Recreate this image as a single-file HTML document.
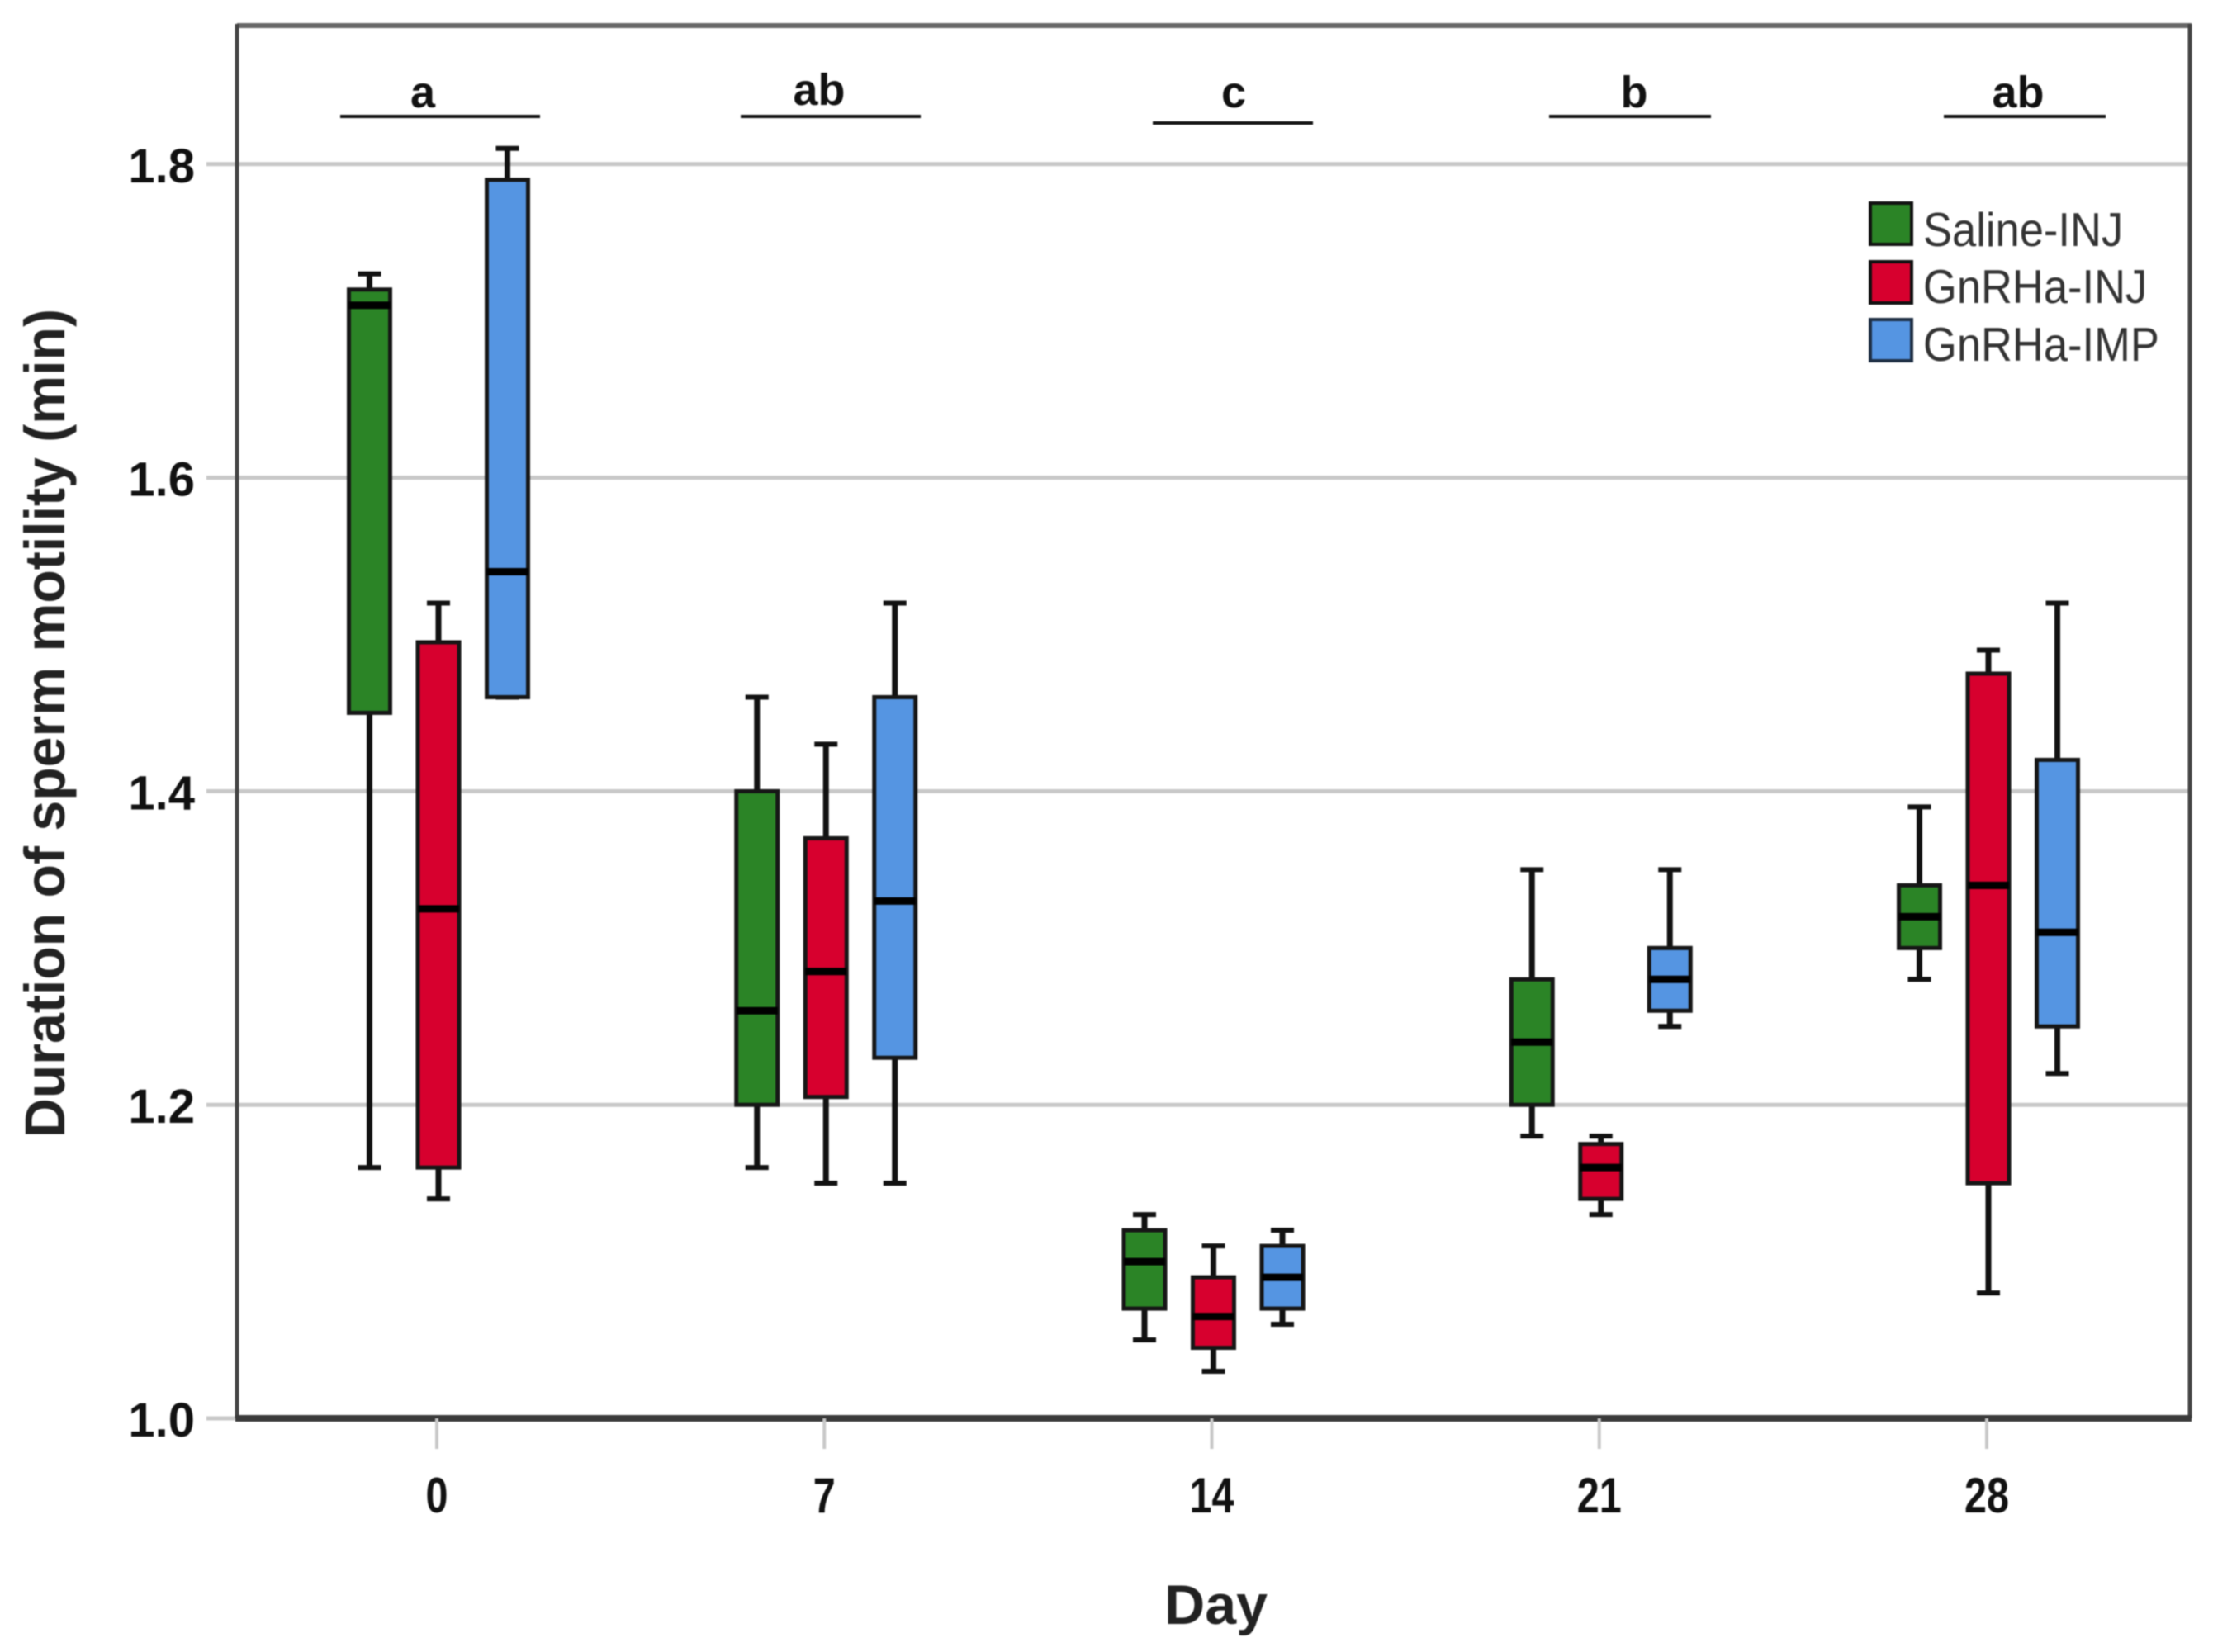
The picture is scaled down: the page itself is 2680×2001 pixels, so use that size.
<!DOCTYPE html>
<html>
<head>
<meta charset="utf-8">
<title>Duration of sperm motility by day</title>
<style>
  html, body { margin: 0; padding: 0; background: #ffffff; }
  svg { display: block; font-family: "Liberation Sans", sans-serif; filter: blur(0.7px); }
</style>
</head>
<body>
<svg id="chart" xmlns="http://www.w3.org/2000/svg" width="2680" height="2001" viewBox="0 0 2680 2001">
  <rect x="0" y="0" width="2680" height="2001" fill="#ffffff"/>
  <g id="grid"></g>
  <g id="frame">
    <line x1="287" y1="31" x2="2654" y2="31" stroke="#666666" stroke-width="6"/>
    <line x1="2652" y1="29" x2="2652" y2="1718" stroke="#444444" stroke-width="5"/>
    <line x1="287" y1="29" x2="287" y2="1718" stroke="#444444" stroke-width="5"/>
    <line x1="285" y1="1718" x2="2654" y2="1718" stroke="#3a3a3a" stroke-width="8"/>
  </g>
  <g id="xaxis"></g>
  <g id="yaxis"></g>
  <g id="boxes"></g>

  <text transform="translate(78,1378) rotate(-90)" font-size="69" font-weight="bold" fill="#222222" textLength="1004" lengthAdjust="spacingAndGlyphs">Duration of sperm motility (min)</text>
  <text x="1410" y="1967" font-size="68" font-weight="bold" fill="#222222" textLength="125" lengthAdjust="spacingAndGlyphs">Day</text>

  <g font-size="54" font-weight="bold" fill="#111111" text-anchor="middle">
    <text x="512" y="130">a</text>
    <line x1="412" y1="141" x2="654" y2="141" stroke="#111111" stroke-width="4"/>
    <text x="992" y="127">ab</text>
    <line x1="897" y1="141" x2="1115" y2="141" stroke="#111111" stroke-width="4"/>
    <text x="1494" y="130">c</text>
    <line x1="1396" y1="149" x2="1590" y2="149" stroke="#111111" stroke-width="4"/>
    <text x="1979" y="130">b</text>
    <line x1="1876" y1="141" x2="2072" y2="141" stroke="#111111" stroke-width="4"/>
    <text x="2444" y="130">ab</text>
    <line x1="2354" y1="141" x2="2550" y2="141" stroke="#111111" stroke-width="4"/>
  </g>

  <g font-size="52.5" fill="#333333">
    <rect x="2265" y="246" width="50" height="50" fill="#2b8426" stroke="#111111" stroke-width="4"/>
    <text transform="translate(2329,298) scale(1,1.09)">Saline-INJ</text>
    <rect x="2265" y="317" width="50" height="50" fill="#d7002e" stroke="#111111" stroke-width="4"/>
    <text transform="translate(2329,367) scale(1,1.09)">GnRHa-INJ</text>
    <rect x="2265" y="387" width="50" height="50" fill="#5595e2" stroke="#1f2f44" stroke-width="4"/>
    <text transform="translate(2329,437) scale(1,1.09)">GnRHa-IMP</text>
  </g>
</svg>

<script>
// Categories and tick labels
const days = ['0', '7', '14', '21', '28'];
const yTicks = [1.0, 1.2, 1.4, 1.6, 1.8];

// Saline-INJ five-number summaries, one value per day
const salineLow = [1.16, 1.16, 1.05, 1.18, 1.28];
const salineQ1 = [1.45, 1.20, 1.07, 1.20, 1.30];
const salineMedian = [1.71, 1.26, 1.10, 1.24, 1.32];
const salineQ3 = [1.72, 1.40, 1.12, 1.28, 1.34];
const salineHigh = [1.73, 1.46, 1.13, 1.35, 1.39];

// GnRHa-INJ
const injLow = [1.14, 1.15, 1.03, 1.13, 1.08];
const injQ1 = [1.16, 1.205, 1.045, 1.14, 1.15];
const injMedian = [1.325, 1.285, 1.065, 1.16, 1.34];
const injQ3 = [1.495, 1.37, 1.09, 1.175, 1.475];
const injHigh = [1.52, 1.43, 1.11, 1.18, 1.49];

// GnRHa-IMP
const impLow = [1.46, 1.15, 1.06, 1.25, 1.22];
const impQ1 = [1.46, 1.23, 1.07, 1.26, 1.25];
const impMedian = [1.54, 1.33, 1.09, 1.28, 1.31];
const impQ3 = [1.79, 1.46, 1.11, 1.30, 1.42];
const impHigh = [1.81, 1.52, 1.12, 1.35, 1.52];

const SVGNS = 'http://www.w3.org/2000/svg';

function yScale(v) { return 1718 - (v - 1.0) * 1899; }
function xScale(i) { return 531 + i * 469.25; }
const dodge = 83.5;
const boxHalf = 25;
const capHalf = 14;

function make(tag, attrs, parent) {
  const el = document.createElementNS(SVGNS, tag);
  for (const k in attrs) el.setAttribute(k, attrs[k]);
  parent.appendChild(el);
  return el;
}

const grid = document.getElementById('grid');
const xaxis = document.getElementById('xaxis');
const yaxis = document.getElementById('yaxis');
const boxes = document.getElementById('boxes');

yTicks.forEach(function (t) {
  const y = yScale(t);
  const gl = make('line', { x1: 250, x2: 2652, y1: y, y2: y, stroke: '#c8c8c8', 'stroke-width': 5 }, grid);
  
  
  const lab = make('text', { x: 236, y: y + 22, 'text-anchor': 'end', 'font-size': 58, 'font-weight': 'bold', fill: '#111111' }, yaxis);
  lab.textContent = t.toFixed(1);
  
  
});

days.forEach(function (d, i) {
  const x = xScale(i) - 2;
  const tick = make('line', { x1: x, x2: x, y1: 1718, y2: 1755, stroke: '#c8c8c8', 'stroke-width': 4 }, xaxis);
  
  
  const lab = make('text', { x: x, y: 1832, 'text-anchor': 'middle', 'font-size': 60, 'font-weight': 'bold', fill: '#111111', textLength: d.length * 27, lengthAdjust: 'spacingAndGlyphs' }, xaxis);
  lab.textContent = d;
  
  
});

function drawSeries(key, fill, offset, low, q1, median, q3, high) {
  days.forEach(function (d, i) {
    const cx = xScale(i) + offset * dodge;
    const g = make('g', {}, boxes);
    
    

    const whisker = make('line', { x1: cx, x2: cx, y1: yScale(high[i]), y2: yScale(low[i]), stroke: '#111111', 'stroke-width': 7 }, g);
    
    

    const capHigh = make('line', { x1: cx - capHalf, x2: cx + capHalf, y1: yScale(high[i]), y2: yScale(high[i]), stroke: '#111111', 'stroke-width': 6 }, g);
    
    

    const capLow = make('line', { x1: cx - capHalf, x2: cx + capHalf, y1: yScale(low[i]), y2: yScale(low[i]), stroke: '#111111', 'stroke-width': 6 }, g);
    
    

    const rect = make('rect', { x: cx - boxHalf, y: yScale(q3[i]), width: boxHalf * 2, height: yScale(q1[i]) - yScale(q3[i]), fill: fill, stroke: '#161616', 'stroke-width': 5 }, g);
    
    

    const med = make('line', { x1: cx - boxHalf, x2: cx + boxHalf, y1: yScale(median[i]), y2: yScale(median[i]), stroke: '#000000', 'stroke-width': 9 }, g);
    
    
  });
}

drawSeries('saline-inj', '#2b8426', -1, salineLow, salineQ1, salineMedian, salineQ3, salineHigh);
drawSeries('gnrha-inj', '#d7002e', 0, injLow, injQ1, injMedian, injQ3, injHigh);
drawSeries('gnrha-imp', '#5595e2', 1, impLow, impQ1, impMedian, impQ3, impHigh);
</script>
</body>
</html>
